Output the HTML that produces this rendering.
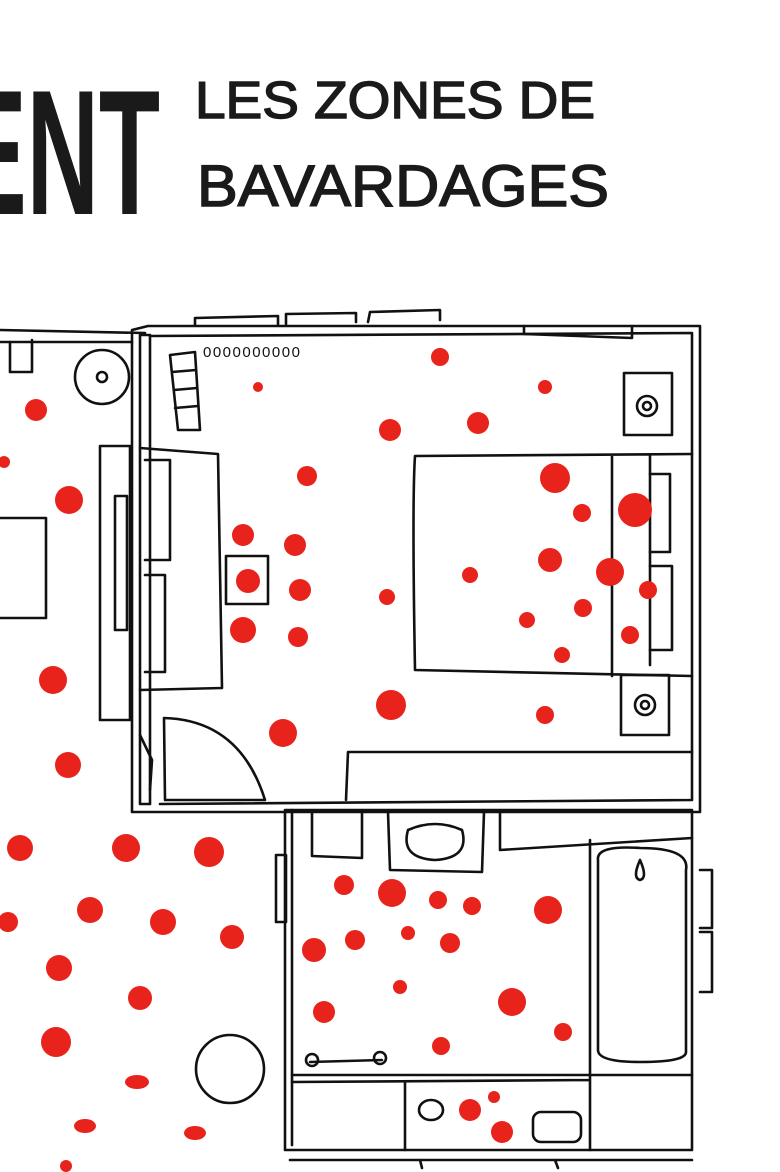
<!DOCTYPE html>
<html><head><meta charset="utf-8"><style>
html,body{margin:0;padding:0;background:#fff;}
svg{display:block}
text{font-family:"Liberation Sans",sans-serif;}
</style></head><body>
<svg width="780" height="1172" viewBox="0 0 780 1172" xmlns="http://www.w3.org/2000/svg">
<rect width="780" height="1172" fill="#fff"/>
<text x="-40" y="214" font-size="178" font-weight="bold" fill="#1a1a1a" textLength="200" lengthAdjust="spacingAndGlyphs">ENT</text>
<text x="195" y="118" font-size="52" fill="#1a1a1a" textLength="400" lengthAdjust="spacingAndGlyphs" stroke="#1a1a1a" stroke-width="1.5">LES ZONES DE</text>
<text x="197" y="206" font-size="58" fill="#1a1a1a" textLength="412" lengthAdjust="spacingAndGlyphs" stroke="#1a1a1a" stroke-width="1.5">BAVARDAGES</text>

<g fill="none" stroke="#111" stroke-width="2.6" stroke-linejoin="round" stroke-linecap="round">
<!-- bedroom outer/inner walls -->
<path d="M148 326 L700 326 L700 812 L132 812 L132 330 Z"/>
<path d="M140 335 L150 335 L150 804 L140 804 Z"/>
<path d="M150 336 L692 333 L692 800 L160 804"/>
<path d="M195 325 L195 318 L278 316 L278 325 M286 324 L286 314 L356 313 L356 322 M368 322 L370 312 L440 310 L440 320"/>
<path d="M524 326 L524 334 L632 338 L632 327"/>
<!-- left room -->
<path d="M0 330 L145 333 M0 342 L132 342"/>
<path d="M10 342 L10 372 L32 372 L32 340"/>
<circle cx="102" cy="377" r="27"/>
<circle cx="102" cy="377" r="5"/>
<path d="M0 518 L46 518 L46 618 L0 618"/>
<path d="M105 446 L130 446 L130 720 L100 720 L100 446 Z"/>
<path d="M115 496 L127 496 L127 630 L115 630 Z"/>
<!-- bedroom contents -->
<path d="M170 355 L195 352 L200 430 L178 430 Z M172 372 L196 370 M174 390 L197 388 M175 408 L198 406"/>
<path d="M140 448 L218 454 L222 688 L140 690"/>
<path d="M145 460 L170 460 L170 560 L145 560 M145 575 L165 575 L165 672 L145 672"/>
<rect x="226" y="556" width="42" height="48"/>
<path d="M164 718 Q240 720 265 800 L165 800 Z"/>
<path d="M140 735 L152 760 L150 790"/>
<path d="M415 456 L692 454 M415 456 Q412 500 415 670 L692 676 M612 456 L612 676 M650 456 L650 665"/>
<path d="M650 474 L670 474 L670 552 L650 552 M650 566 L672 566 L672 650 L650 650"/>
<rect x="624" y="373" width="48" height="62"/><circle cx="647" cy="406" r="10"/><circle cx="647" cy="406" r="4"/>
<rect x="621" y="675" width="48" height="60"/><circle cx="645" cy="705" r="10"/><circle cx="645" cy="705" r="4"/>
<path d="M346 800 L348 752 L692 752"/>
<!-- bathroom -->
<path d="M285 810 L692 810 L692 1150 L285 1150 Z"/>
<path d="M292 810 L292 1145 M276 855 L286 855 L286 922 L276 922 Z"/>
<path d="M312 812 L312 856 L362 858 L362 812"/>
<path d="M388 812 L390 870 L482 872 L484 812"/>
<path d="M408 830 Q400 858 435 860 Q470 858 462 830 Q435 818 408 830 Z"/>
<path d="M500 812 L500 850 L692 838"/>
<path d="M590 840 L590 1075 M598 860 Q596 845 640 848 Q690 848 686 870 L686 1052 Q686 1062 640 1062 Q598 1062 598 1050 Z"/>
<path d="M700 870 L712 870 L712 928 L700 928 M700 932 L712 932 L712 992 L700 992"/>
<path d="M292 1075 L692 1075 M292 1082 L590 1080 M405 1082 L405 1150 M590 1075 L590 1150"/>
<path d="M310 1062 L382 1060"/><circle cx="312" cy="1060" r="6"/><circle cx="380" cy="1058" r="6"/>
<ellipse cx="431" cy="1110" rx="12" ry="10"/>
<rect x="533" y="1112" width="48" height="30" rx="8"/>
<path d="M290 1160 L692 1160 M420 1160 L422 1168 M555 1160 L558 1168"/>
<circle cx="230" cy="1069" r="34"/>
<path d="M640 860 Q632 878 640 880 Q648 878 640 860 Z"/>
</g>
<g fill="#111"><text x="203" y="357" font-size="15" letter-spacing="1.5">0000000000</text></g>

<g fill="#e8231c">
<circle cx="440" cy="357" r="9"/><circle cx="545" cy="387" r="7"/><circle cx="258" cy="387" r="5"/>
<circle cx="390" cy="430" r="11"/><circle cx="478" cy="423" r="11"/><circle cx="307" cy="476" r="10"/>
<circle cx="555" cy="478" r="15"/><circle cx="582" cy="513" r="9"/><circle cx="635" cy="510" r="17"/>
<circle cx="243" cy="535" r="11"/><circle cx="295" cy="545" r="11"/><circle cx="550" cy="560" r="12"/>
<circle cx="610" cy="572" r="14"/><circle cx="648" cy="590" r="9"/><circle cx="248" cy="581" r="12"/>
<circle cx="300" cy="590" r="11"/><circle cx="387" cy="597" r="8"/><circle cx="470" cy="575" r="8"/>
<circle cx="583" cy="608" r="9"/><circle cx="527" cy="620" r="8"/><circle cx="630" cy="635" r="9"/>
<circle cx="243" cy="630" r="13"/><circle cx="298" cy="637" r="10"/><circle cx="562" cy="655" r="8"/>
<circle cx="391" cy="705" r="15"/><circle cx="545" cy="715" r="9"/><circle cx="283" cy="733" r="14"/>
<circle cx="36" cy="410" r="11"/><circle cx="69" cy="500" r="14"/><circle cx="4" cy="462" r="6"/>
<circle cx="53" cy="680" r="14"/><circle cx="68" cy="765" r="13"/>
<circle cx="20" cy="848" r="13"/><circle cx="126" cy="848" r="14"/><circle cx="209" cy="852" r="15"/>
<circle cx="90" cy="910" r="13"/><circle cx="163" cy="922" r="13"/><circle cx="8" cy="922" r="10"/>
<circle cx="232" cy="937" r="12"/><circle cx="59" cy="968" r="13"/><circle cx="140" cy="998" r="12"/>
<circle cx="56" cy="1042" r="15"/><ellipse cx="137" cy="1082" rx="12" ry="7"/><ellipse cx="85" cy="1126" rx="11" ry="7"/>
<ellipse cx="195" cy="1133" rx="11" ry="7"/><circle cx="66" cy="1166" r="6"/>
<circle cx="344" cy="885" r="10"/><circle cx="392" cy="893" r="14"/><circle cx="438" cy="900" r="9"/>
<circle cx="472" cy="906" r="9"/><circle cx="548" cy="910" r="14"/><circle cx="314" cy="950" r="12"/>
<circle cx="355" cy="940" r="10"/><circle cx="408" cy="933" r="7"/><circle cx="450" cy="943" r="10"/>
<circle cx="400" cy="987" r="7"/><circle cx="512" cy="1002" r="14"/><circle cx="324" cy="1012" r="11"/>
<circle cx="563" cy="1032" r="9"/><circle cx="441" cy="1046" r="9"/>
<circle cx="470" cy="1110" r="11"/><circle cx="494" cy="1097" r="6"/><circle cx="502" cy="1132" r="11"/>
</g>
</svg>
</body></html>
